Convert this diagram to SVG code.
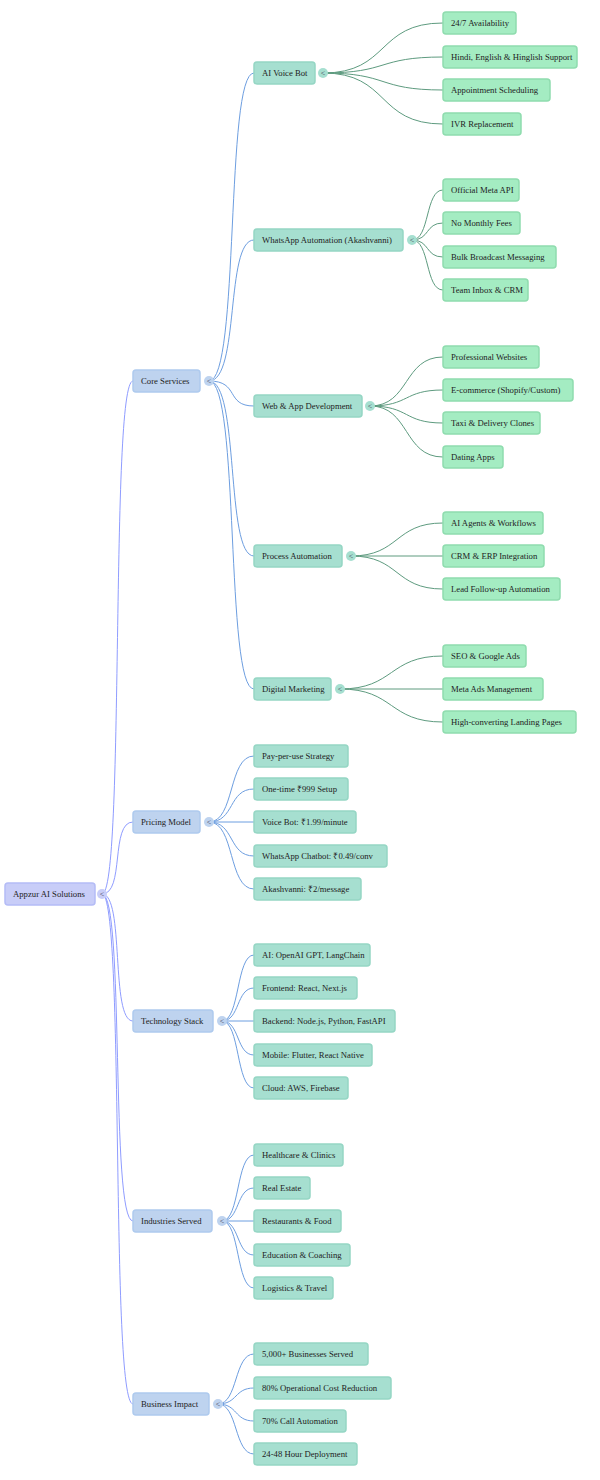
<svg xmlns="http://www.w3.org/2000/svg" width="600" height="1480" viewBox="0 0 600 1480">
<style>
text{font-family:"Liberation Serif","Times New Roman",serif;font-size:8.7px;fill:#222;dominant-baseline:central}
.r rect{fill:#c8cdf8;stroke:#b4bcf6;stroke-width:1.5}
.a rect{fill:#bed3ef;stroke:#aecaee;stroke-width:1.5}
.b rect{fill:#a6dfd0;stroke:#95d6c4;stroke-width:1.5}
.c rect{fill:#a4ecc2;stroke:#8fdcae;stroke-width:1.5}
.t{font-size:8px;fill:#445;text-anchor:middle}
.k0{fill:#c8cdf8}.k1{fill:#bed3ef}.k2{fill:#a6dfd0}
#edges path{fill:none;stroke-width:1}
.e0{stroke:#8f9cff}.e1{stroke:#6d9ee0}.e2{stroke:#5e9b7f}
</style>
<g id="edges">
<path class="e0" d="M102,894 C125,894 110,381 133,381"/>
<path class="e0" d="M102,894 C125,894 110,822 133,822"/>
<path class="e0" d="M102,894 C125,894 110,1021 133,1021"/>
<path class="e0" d="M102,894 C125,894 110,1221 133,1221"/>
<path class="e0" d="M102,894 C125,894 110,1404 133,1404"/>
<path class="e1" d="M209,381 C240,381 225,73 254,73"/>
<path class="e1" d="M209,381 C240,381 225,240 254,240"/>
<path class="e1" d="M209,381 C240,381 225,406 254,406"/>
<path class="e1" d="M209,381 C240,381 225,556 254,556"/>
<path class="e1" d="M209,381 C240,381 225,689 254,689"/>
<path class="e1" d="M209,822 C235,822 228,756 254,756"/>
<path class="e1" d="M209,822 C235,822 228,789 254,789"/>
<path class="e1" d="M209,822 L254,822"/>
<path class="e1" d="M209,822 C235,822 228,856 254,856"/>
<path class="e1" d="M209,822 C235,822 228,889 254,889"/>
<path class="e1" d="M222,1021 C240,1021 236,955 254,955"/>
<path class="e1" d="M222,1021 C240,1021 236,988 254,988"/>
<path class="e1" d="M222,1021 L254,1021"/>
<path class="e1" d="M222,1021 C240,1021 236,1055 254,1055"/>
<path class="e1" d="M222,1021 C240,1021 236,1088 254,1088"/>
<path class="e1" d="M222,1221 C240,1221 236,1155 254,1155"/>
<path class="e1" d="M222,1221 C240,1221 236,1188 254,1188"/>
<path class="e1" d="M222,1221 L254,1221"/>
<path class="e1" d="M222,1221 C240,1221 236,1255 254,1255"/>
<path class="e1" d="M222,1221 C240,1221 236,1288 254,1288"/>
<path class="e1" d="M218,1404 C238,1404 234,1354 254,1354"/>
<path class="e1" d="M218,1404 C238,1404 234,1388 254,1388"/>
<path class="e1" d="M218,1404 C238,1404 234,1421 254,1421"/>
<path class="e1" d="M218,1404 C238,1404 234,1454 254,1454"/>
<path class="e2" d="M323,73 C390,73 376,23 443,23"/>
<path class="e2" d="M323,73 C390,73 376,57 443,57"/>
<path class="e2" d="M323,73 C390,73 376,90 443,90"/>
<path class="e2" d="M323,73 C390,73 376,124 443,124"/>
<path class="e2" d="M412,240 C430,240 425,190 443,190"/>
<path class="e2" d="M412,240 C430,240 425,223 443,223"/>
<path class="e2" d="M412,240 C430,240 425,257 443,257"/>
<path class="e2" d="M412,240 C430,240 425,290 443,290"/>
<path class="e2" d="M370,406 C410,406 403,357 443,357"/>
<path class="e2" d="M370,406 C410,406 403,390 443,390"/>
<path class="e2" d="M370,406 C410,406 403,423 443,423"/>
<path class="e2" d="M370,406 C410,406 403,457 443,457"/>
<path class="e2" d="M351,556 C400,556 394,523 443,523"/>
<path class="e2" d="M351,556 L443,556"/>
<path class="e2" d="M351,556 C400,556 394,589 443,589"/>
<path class="e2" d="M340,689 C395,689 388,656 443,656"/>
<path class="e2" d="M340,689 L443,689"/>
<path class="e2" d="M340,689 C395,689 388,722 443,722"/>
</g>
<g id="root" class="r"><rect x="5" y="883" width="90" height="22" rx="3"/><text x="13" y="894">Appzur AI Solutions</text><circle class="k0" cx="102" cy="894" r="5"/><text class="t" x="102" y="894">&lt;</text></g>
<g id="core" class="a"><rect x="133" y="370" width="67" height="22" rx="3"/><text x="141" y="381">Core Services</text><circle class="k1" cx="209" cy="381" r="5"/><text class="t" x="209" y="381">&lt;</text></g>
<g id="pricing" class="a"><rect x="133" y="811" width="67" height="22" rx="3"/><text x="141" y="822">Pricing Model</text><circle class="k1" cx="209" cy="822" r="5"/><text class="t" x="209" y="822">&lt;</text></g>
<g id="tech" class="a"><rect x="133" y="1010" width="80" height="22" rx="3"/><text x="141" y="1021">Technology Stack</text><circle class="k1" cx="222" cy="1021" r="5"/><text class="t" x="222" y="1021">&lt;</text></g>
<g id="industries" class="a"><rect x="133" y="1210" width="79" height="22" rx="3"/><text x="141" y="1221">Industries Served</text><circle class="k1" cx="222" cy="1221" r="5"/><text class="t" x="222" y="1221">&lt;</text></g>
<g id="impact" class="a"><rect x="133" y="1393" width="76" height="22" rx="3"/><text x="141" y="1404">Business Impact</text><circle class="k1" cx="218" cy="1404" r="5"/><text class="t" x="218" y="1404">&lt;</text></g>
<g id="voice" class="b"><rect x="254" y="62" width="61" height="22" rx="3"/><text x="262" y="73">AI Voice Bot</text><circle class="k2" cx="323" cy="73" r="5"/><text class="t" x="323" y="73">&lt;</text></g>
<g id="whatsapp" class="b"><rect x="254" y="229" width="149" height="22" rx="3"/><text x="262" y="240">WhatsApp Automation (Akashvanni)</text><circle class="k2" cx="412" cy="240" r="5"/><text class="t" x="412" y="240">&lt;</text></g>
<g id="web" class="b"><rect x="254" y="395" width="108" height="22" rx="3"/><text x="262" y="406">Web &amp; App Development</text><circle class="k2" cx="370" cy="406" r="5"/><text class="t" x="370" y="406">&lt;</text></g>
<g id="process" class="b"><rect x="254" y="545" width="88" height="22" rx="3"/><text x="262" y="556">Process Automation</text><circle class="k2" cx="351" cy="556" r="5"/><text class="t" x="351" y="556">&lt;</text></g>
<g id="digital" class="b"><rect x="254" y="678" width="77" height="22" rx="3"/><text x="262" y="689">Digital Marketing</text><circle class="k2" cx="340" cy="689" r="5"/><text class="t" x="340" y="689">&lt;</text></g>
<g id="p1" class="b"><rect x="254" y="745" width="94" height="22" rx="3"/><text x="262" y="756">Pay-per-use Strategy</text></g>
<g id="p2" class="b"><rect x="254" y="778" width="94" height="22" rx="3"/><text x="262" y="789">One-time ₹999 Setup</text></g>
<g id="p3" class="b"><rect x="254" y="811" width="102" height="22" rx="3"/><text x="262" y="822">Voice Bot: ₹1.99/minute</text></g>
<g id="p4" class="b"><rect x="254" y="845" width="133" height="22" rx="3"/><text x="262" y="856">WhatsApp Chatbot: ₹0.49/conv</text></g>
<g id="p5" class="b"><rect x="254" y="878" width="107" height="22" rx="3"/><text x="262" y="889">Akashvanni: ₹2/message</text></g>
<g id="t1" class="b"><rect x="254" y="944" width="116" height="22" rx="3"/><text x="262" y="955">AI: OpenAI GPT, LangChain</text></g>
<g id="t2" class="b"><rect x="254" y="977" width="103" height="22" rx="3"/><text x="262" y="988">Frontend: React, Next.js</text></g>
<g id="t3" class="b"><rect x="254" y="1010" width="141" height="22" rx="3"/><text x="262" y="1021">Backend: Node.js, Python, FastAPI</text></g>
<g id="t4" class="b"><rect x="254" y="1044" width="118" height="22" rx="3"/><text x="262" y="1055">Mobile: Flutter, React Native</text></g>
<g id="t5" class="b"><rect x="254" y="1077" width="94" height="22" rx="3"/><text x="262" y="1088">Cloud: AWS, Firebase</text></g>
<g id="i1" class="b"><rect x="254" y="1144" width="89" height="22" rx="3"/><text x="262" y="1155">Healthcare &amp; Clinics</text></g>
<g id="i2" class="b"><rect x="254" y="1177" width="56" height="22" rx="3"/><text x="262" y="1188">Real Estate</text></g>
<g id="i3" class="b"><rect x="254" y="1210" width="87" height="22" rx="3"/><text x="262" y="1221">Restaurants &amp; Food</text></g>
<g id="i4" class="b"><rect x="254" y="1244" width="96" height="22" rx="3"/><text x="262" y="1255">Education &amp; Coaching</text></g>
<g id="i5" class="b"><rect x="254" y="1277" width="79" height="22" rx="3"/><text x="262" y="1288">Logistics &amp; Travel</text></g>
<g id="b1" class="b"><rect x="254" y="1343" width="114" height="22" rx="3"/><text x="262" y="1354">5,000+ Businesses Served</text></g>
<g id="b2" class="b"><rect x="254" y="1377" width="137" height="22" rx="3"/><text x="262" y="1388">80% Operational Cost Reduction</text></g>
<g id="b3" class="b"><rect x="254" y="1410" width="92" height="22" rx="3"/><text x="262" y="1421">70% Call Automation</text></g>
<g id="b4" class="b"><rect x="254" y="1443" width="103" height="22" rx="3"/><text x="262" y="1454">24-48 Hour Deployment</text></g>
<g id="l1" class="c"><rect x="443" y="12" width="73" height="22" rx="3"/><text x="451" y="23">24/7 Availability</text></g>
<g id="l2" class="c"><rect x="443" y="46" width="134" height="22" rx="3"/><text x="451" y="57">Hindi, English &amp; Hinglish Support</text></g>
<g id="l3" class="c"><rect x="443" y="79" width="107" height="22" rx="3"/><text x="451" y="90">Appointment Scheduling</text></g>
<g id="l4" class="c"><rect x="443" y="113" width="78" height="22" rx="3"/><text x="451" y="124">IVR Replacement</text></g>
<g id="l5" class="c"><rect x="443" y="179" width="76" height="22" rx="3"/><text x="451" y="190">Official Meta API</text></g>
<g id="l6" class="c"><rect x="443" y="212" width="77" height="22" rx="3"/><text x="451" y="223">No Monthly Fees</text></g>
<g id="l7" class="c"><rect x="443" y="246" width="113" height="22" rx="3"/><text x="451" y="257">Bulk Broadcast Messaging</text></g>
<g id="l8" class="c"><rect x="443" y="279" width="85" height="22" rx="3"/><text x="451" y="290">Team Inbox &amp; CRM</text></g>
<g id="l9" class="c"><rect x="443" y="346" width="96" height="22" rx="3"/><text x="451" y="357">Professional Websites</text></g>
<g id="l10" class="c"><rect x="443" y="379" width="130" height="22" rx="3"/><text x="451" y="390">E-commerce (Shopify/Custom)</text></g>
<g id="l11" class="c"><rect x="443" y="412" width="97" height="22" rx="3"/><text x="451" y="423">Taxi &amp; Delivery Clones</text></g>
<g id="l12" class="c"><rect x="443" y="446" width="60" height="22" rx="3"/><text x="451" y="457">Dating Apps</text></g>
<g id="l13" class="c"><rect x="443" y="512" width="100" height="22" rx="3"/><text x="451" y="523">AI Agents &amp; Workflows</text></g>
<g id="l14" class="c"><rect x="443" y="545" width="101" height="22" rx="3"/><text x="451" y="556">CRM &amp; ERP Integration</text></g>
<g id="l15" class="c"><rect x="443" y="578" width="117" height="22" rx="3"/><text x="451" y="589">Lead Follow-up Automation</text></g>
<g id="l16" class="c"><rect x="443" y="645" width="83" height="22" rx="3"/><text x="451" y="656">SEO &amp; Google Ads</text></g>
<g id="l17" class="c"><rect x="443" y="678" width="100" height="22" rx="3"/><text x="451" y="689">Meta Ads Management</text></g>
<g id="l18" class="c"><rect x="443" y="711" width="133" height="22" rx="3"/><text x="451" y="722">High-converting Landing Pages</text></g>
</svg>
